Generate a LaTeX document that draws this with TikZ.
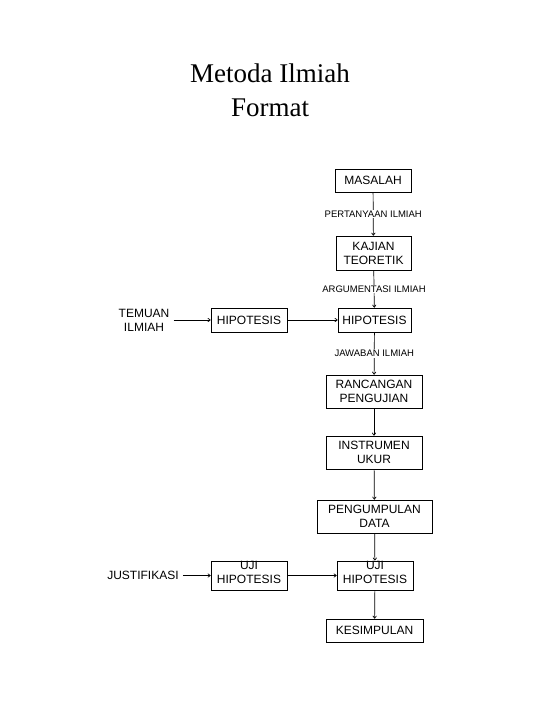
\documentclass[tikz,border=0pt]{standalone}
\usepackage{fontspec}
\setmainfont{Liberation Serif}
\setsansfont{Liberation Sans}
\usepackage{tikz}
\usetikzlibrary{arrows.meta,positioning}
\tikzset{
  box/.style={draw,line width=0.7pt,align=center,inner sep=0pt,
    font=\sffamily\fontsize{12}{14}\selectfont},
  plain/.style={align=center,inner sep=4pt,
    font=\sffamily\fontsize{12}{14}\selectfont},
  lbl/.style={fill=white,inner sep=1pt,
    font=\sffamily\fontsize{9.5}{11}\selectfont},
  link/.style={line width=0.7pt,-{To[length=3pt,width=4pt]}}
}

\begin{document}
\begin{tikzpicture}[x=1pt,y=-1pt]
  \useasboundingbox (0,0) rectangle (540,720);
  % title
  \node[align=center,font=\fontsize{27}{34}\selectfont] (title) at (270,90)
    {Metoda Ilmiah\\Format};
  % main column
  \node[box,minimum width=76pt,minimum height=23pt] (mas) at (373,180.5) {MASALAH};
  \node[box,minimum width=75pt,minimum height=34pt] (kaj) at (373.5,253) {KAJIAN\\TEORETIK};
  \node[box,minimum width=73pt,minimum height=24pt] (hipR) at (374.5,320) {HIPOTESIS};
  \node[box,minimum width=96pt,minimum height=33pt] (ran) at (374,391.5) {RANCANGAN\\PENGUJIAN};
  \node[box,minimum width=96pt,minimum height=33pt] (ins) at (374,452.5) {INSTRUMEN\\UKUR};
  \node[box,minimum width=115pt,minimum height=33pt] (pen) at (374.5,516.5) {PENGUMPULAN\\DATA};
  \node[box,minimum width=76pt,minimum height=29pt,text depth=7pt] (ujiR) at (375,575.5) {UJI\\HIPOTESIS};
  \node[box,minimum width=97pt,minimum height=23pt] (kes) at (374.5,630.5) {KESIMPULAN};
  % side branch
  \node[plain] (tem) at (144,320) {TEMUAN\\ILMIAH};
  \node[box,minimum width=76pt,minimum height=24pt] (hipL) at (249,320) {HIPOTESIS};
  \node[plain] (jus) at (143,575.5) {JUSTIFIKASI};
  \node[box,minimum width=76pt,minimum height=29pt,text depth=7pt] (ujiL) at (249,575.5) {UJI\\HIPOTESIS};
  % connectors
  \draw[link] (mas) -- node[lbl] {PERTANYAAN ILMIAH} (kaj);
  \draw[link] (kaj) -- node[lbl] {ARGUMENTASI ILMIAH} (hipR);
  \draw[link] (hipR) -- node[lbl] {JAWABAN ILMIAH} (ran);
  \draw[link] (ran) -- (ins);
  \draw[link] (ins) -- (pen);
  \draw[link] (pen) -- (ujiR);
  \draw[link] (ujiR) -- (kes);
  \draw[link] (tem) -- (hipL);
  \draw[link] (hipL) -- (hipR);
  \draw[link] (jus) -- (ujiL);
  \draw[link] (ujiL) -- (ujiR);
\end{tikzpicture}
\end{document}
